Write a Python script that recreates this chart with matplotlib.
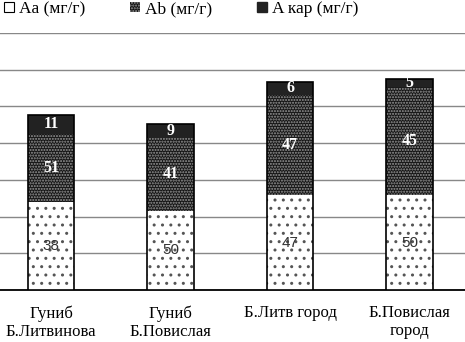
import numpy as np
import matplotlib.pyplot as plt
from matplotlib.patches import Patch

plt.rcParams['font.family'] = ['Liberation Serif', 'DejaVu Serif']
plt.rcParams['hatch.linewidth'] = 1.0

categories = ['Гуниб\nБ.Литвинова', 'Гуниб\nБ.Повислая', 'Б.Литв город', 'Б.Повислая\nгород']
# heights (mg/g, no y scale shown)
aa = np.array([1.20, 1.08, 1.29, 1.29])
ab = np.array([0.92, 0.99, 1.37, 1.47])
kap = np.array([0.27, 0.19, 0.17, 0.12])
# printed labels
aa_lbl = ['38', '50', '47', '50']
ab_lbl = ['51', '41', '47', '45']
kap_lbl = ['11', '9', '6', '5']

fig = plt.figure(figsize=(4.65, 3.42), dpi=100)
ax = fig.add_axes([-0.0188, 0.152, 1.028, 0.7515])

x = np.arange(len(categories))
w = 0.39

ax.bar(x, aa, w, color='white', edgecolor='#555555', hatch='..', linewidth=0, zorder=3)
ax.bar(x, ab, w, bottom=aa, color='#151515', edgecolor='#999999', hatch='......', linewidth=0, zorder=3)
ax.bar(x, kap, w, bottom=aa + ab, color='#222222', linewidth=0, zorder=3)
ax.bar(x, aa + ab + kap, w, fill=False, edgecolor='black', linewidth=1.2, zorder=4)

for i in range(len(x)):
    ax.text(x[i], aa[i] / 2, aa_lbl[i], ha='center', va='center', fontsize=11,
            family='Liberation Sans', color='#333333', zorder=5)
    ax.text(x[i], aa[i] + ab[i] / 2, ab_lbl[i], ha='center', va='center', fontsize=11.5,
            fontweight='bold', color='white', zorder=5)
    ax.text(x[i], aa[i] + ab[i] + kap[i] / 2, kap_lbl[i], ha='center', va='center', fontsize=11.5,
            fontweight='bold', color='white', zorder=5)

ax.set_xlim(-0.5, 3.5)
ax.set_ylim(0, 3.5)
ax.set_yticks(np.arange(0, 3.51, 0.5))
ax.yaxis.grid(True, color='#888888', linewidth=1)
ax.set_axisbelow(True)
ax.tick_params(axis='y', left=False, labelleft=False)
ax.tick_params(axis='x', length=0, pad=11, labelsize=12)
ax.set_xticks(x)
ax.set_xticklabels(categories, linespacing=1.15)
for s in ['left', 'right', 'top']:
    ax.spines[s].set_visible(False)
ax.spines['bottom'].set_linewidth(1.3)

handles = [Patch(facecolor='white', edgecolor='black', linewidth=0.8),
           Patch(facecolor='#151515', edgecolor='#999999', hatch='......', linewidth=0),
           Patch(facecolor='#222222', edgecolor='#222222')]
fig.legend(handles, ['Aa (мг/г)', 'Ab (мг/г)', 'A кар (мг/г)'], loc='upper left',
           bbox_to_anchor=(-0.025, 1.042), ncol=3, frameon=False, fontsize=12.5,
           handlelength=0.55, handleheight=0.55, handletextpad=0.3, columnspacing=2.6)

fig.savefig('out.png', dpi=100)
